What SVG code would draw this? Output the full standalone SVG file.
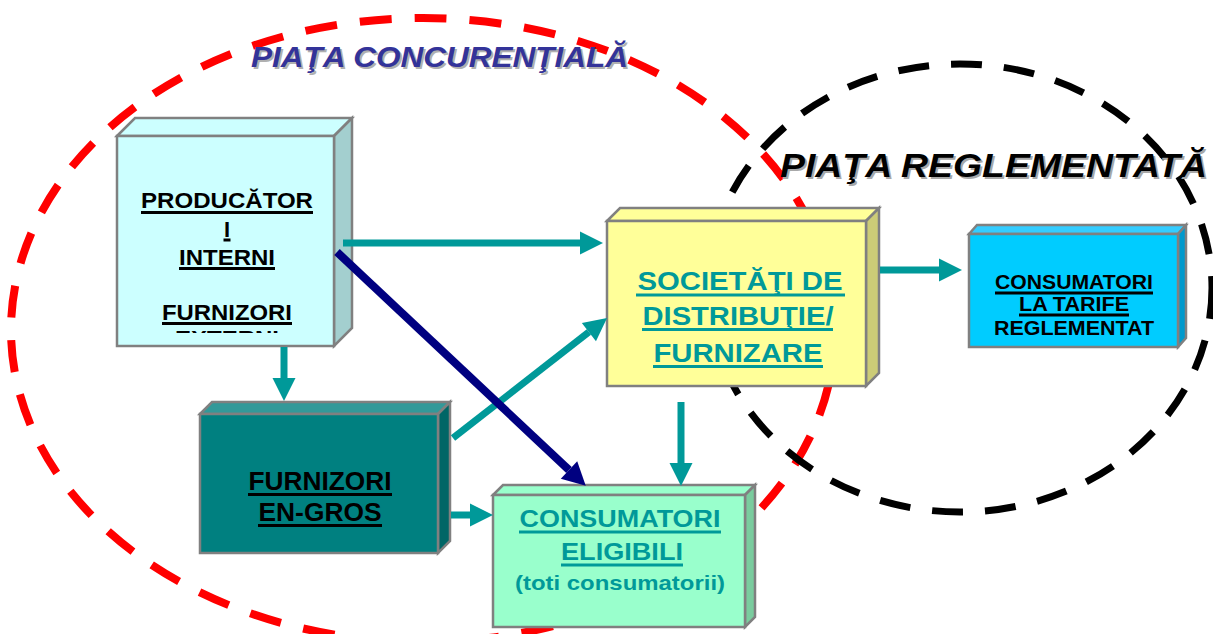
<svg xmlns="http://www.w3.org/2000/svg" width="1213" height="634" viewBox="0 0 1213 634">
<style>
.t{font-family:"Liberation Sans",Arial,sans-serif;font-weight:bold;text-anchor:middle}
.ttl{font-family:"Liberation Sans",Arial,sans-serif;font-weight:bold;font-style:italic}
.bx{stroke:#808080;stroke-width:2.5;stroke-linejoin:miter}
.e{fill:none;stroke:#009999;stroke-width:7}
.navy{fill:none;stroke:#000080;stroke-width:8}
.ulk{stroke:#000;stroke-width:3}
.ult{stroke:#009999;stroke-width:3}
</style>
<defs>
<marker id="ah" markerUnits="userSpaceOnUse" markerWidth="24" markerHeight="24" refX="0" refY="12" orient="auto" overflow="visible">
<path d="M0,0.5 L23,12 L0,23.5 z" fill="#009999"/>
</marker>
<marker id="ahn" markerUnits="userSpaceOnUse" markerWidth="24" markerHeight="26" refX="0" refY="12" orient="auto" overflow="visible">
<path d="M0,0 L23,12 L0,24 z" fill="#000080"/>
</marker>
<clipPath id="c1"><rect x="117" y="136" width="217" height="197"/></clipPath>
</defs>
<rect width="1213" height="634" fill="#fff"/>

<g id="markets">
<ellipse cx="423" cy="330" rx="412" ry="312" fill="none" stroke="#FF0000" stroke-width="8" stroke-dasharray="32 23"/>
<ellipse cx="960" cy="288" rx="252" ry="224" fill="none" stroke="#000" stroke-width="7" stroke-dasharray="31 22"/>
</g>

<g id="title-concurentiala">
<text class="ttl" x="253" y="69" font-size="29" textLength="377" lengthAdjust="spacingAndGlyphs" fill="#B0B0B0">PIAŢA CONCURENŢIALĂ</text>
<text class="ttl" x="251" y="67" font-size="29" textLength="377" lengthAdjust="spacingAndGlyphs" fill="#333399">PIAŢA CONCURENŢIALĂ</text>
</g>
<g id="title-reglementata">
<text class="ttl" x="782" y="179" font-size="33" textLength="427" lengthAdjust="spacingAndGlyphs" fill="#A8A8A8">PIAŢA REGLEMENTATĂ</text>
<text class="ttl" x="780" y="177" font-size="33" textLength="427" lengthAdjust="spacingAndGlyphs" fill="#000">PIAŢA REGLEMENTATĂ</text>
</g>

<g id="producatori">
<polygon class="bx" points="117,136 135,118 352,118 334,136" fill="#CCFFFF"/>
<polygon class="bx" points="334,136 352,118 352,328 334,346" fill="#A3CFCF"/>
<rect class="bx" x="117" y="136" width="217" height="210" fill="#CCFFFF"/>
<g clip-path="url(#c1)">
<text class="t" x="227" y="208" font-size="22" textLength="172" lengthAdjust="spacingAndGlyphs">PRODUCĂTOR</text>
<line class="ulk" x1="141" y1="212.5" x2="313" y2="212.5"/>
<text class="t" x="227" y="237" font-size="22">I</text>
<line class="ulk" x1="223.5" y1="240" x2="230.5" y2="240"/>
<text class="t" x="227" y="265" font-size="22" textLength="96" lengthAdjust="spacingAndGlyphs">INTERNI</text>
<line class="ulk" x1="179" y1="268.5" x2="275" y2="268.5"/>
<text class="t" x="227" y="320" font-size="22" textLength="130" lengthAdjust="spacingAndGlyphs">FURNIZORI</text>
<line class="ulk" x1="162" y1="323.5" x2="292" y2="323.5"/>
<text class="t" x="227" y="346" font-size="22" textLength="104" lengthAdjust="spacingAndGlyphs">EXTERNI</text>
</g>
</g>

<g id="furnizori-en-gros">
<polygon class="bx" points="200,414 212,402 450,402 438,414" fill="#339999"/>
<polygon class="bx" points="438,414 450,402 450,541 438,553" fill="#006666"/>
<rect class="bx" x="200" y="414" width="238" height="139" fill="#008080"/>
<text class="t" x="320" y="490" font-size="25" textLength="143" lengthAdjust="spacingAndGlyphs">FURNIZORI</text>
<line class="ulk" x1="248" y1="494.5" x2="392" y2="494.5"/>
<text class="t" x="320" y="521" font-size="25" textLength="123" lengthAdjust="spacingAndGlyphs">EN-GROS</text>
<line class="ulk" x1="258" y1="525.5" x2="382" y2="525.5"/>
</g>

<g id="societati">
<polygon class="bx" points="607,221 620,208 879,208 866,221" fill="#FFFF99"/>
<polygon class="bx" points="866,221 879,208 879,373 866,386" fill="#CCCC77"/>
<rect class="bx" x="607" y="221" width="259" height="165" fill="#FFFF99"/>
<text class="t" x="740" y="290" font-size="26" fill="#009999" textLength="205" lengthAdjust="spacingAndGlyphs">SOCIETĂŢI DE</text>
<line class="ult" x1="636" y1="295" x2="845" y2="295"/>
<text class="t" x="738" y="325" font-size="26" fill="#009999" textLength="191" lengthAdjust="spacingAndGlyphs">DISTRIBUŢIE/</text>
<line class="ult" x1="642" y1="329.5" x2="833" y2="329.5"/>
<text class="t" x="738" y="362" font-size="26" fill="#009999" textLength="169" lengthAdjust="spacingAndGlyphs">FURNIZARE</text>
<line class="ult" x1="653" y1="366.5" x2="823" y2="366.5"/>
</g>

<g id="consumatori-tarife">
<polygon class="bx" points="969,234 977,225 1186,225 1178,234" fill="#33CCFF"/>
<polygon class="bx" points="1178,234 1186,225 1186,338 1178,347" fill="#0099CC"/>
<rect class="bx" x="969" y="234" width="209" height="113" fill="#00CCFF"/>
<text class="t" x="1074" y="289" font-size="20" textLength="158" lengthAdjust="spacingAndGlyphs">CONSUMATORI</text>
<line class="ulk" x1="995" y1="293" x2="1153" y2="293"/>
<text class="t" x="1074" y="311" font-size="20" textLength="110" lengthAdjust="spacingAndGlyphs">LA TARIFE</text>
<line class="ulk" x1="1019" y1="315" x2="1129" y2="315"/>
<text class="t" x="1074" y="335" font-size="20" textLength="160" lengthAdjust="spacingAndGlyphs">REGLEMENTAT</text>
</g>

<g id="consumatori-eligibili">
<polygon class="bx" points="493,495 503,485 755,485 745,495" fill="#99FFCC"/>
<polygon class="bx" points="745,495 755,485 755,617 745,627" fill="#7ACC9E"/>
<rect class="bx" x="493" y="495" width="252" height="132" fill="#99FFCC"/>
<text class="t" x="620" y="527" font-size="24" fill="#009999" textLength="201" lengthAdjust="spacingAndGlyphs">CONSUMATORI</text>
<line class="ult" x1="519" y1="532" x2="721" y2="532"/>
<text class="t" x="622" y="560" font-size="24" fill="#009999" textLength="122" lengthAdjust="spacingAndGlyphs">ELIGIBILI</text>
<line class="ult" x1="561" y1="565" x2="683" y2="565"/>
<text class="t" x="620" y="590" font-size="21" fill="#009999" textLength="210" lengthAdjust="spacingAndGlyphs">(toti consumatorii)</text>
</g>

<g id="connectors">
<line class="e" x1="343" y1="243" x2="580" y2="243" marker-end="url(#ah)"/>
<line class="e" x1="453" y1="438" x2="588.9" y2="332.1" marker-end="url(#ah)"/>
<line class="e" x1="284" y1="347" x2="284" y2="378" marker-end="url(#ah)"/>
<line class="e" x1="451" y1="515" x2="470" y2="515" marker-end="url(#ah)"/>
<line class="e" x1="681" y1="402" x2="681" y2="463" marker-end="url(#ah)"/>
<line class="e" x1="880" y1="270" x2="939" y2="270" marker-end="url(#ah)"/>
<line class="navy" x1="337" y1="252" x2="569" y2="470" marker-end="url(#ahn)"/>
</g>
</svg>
